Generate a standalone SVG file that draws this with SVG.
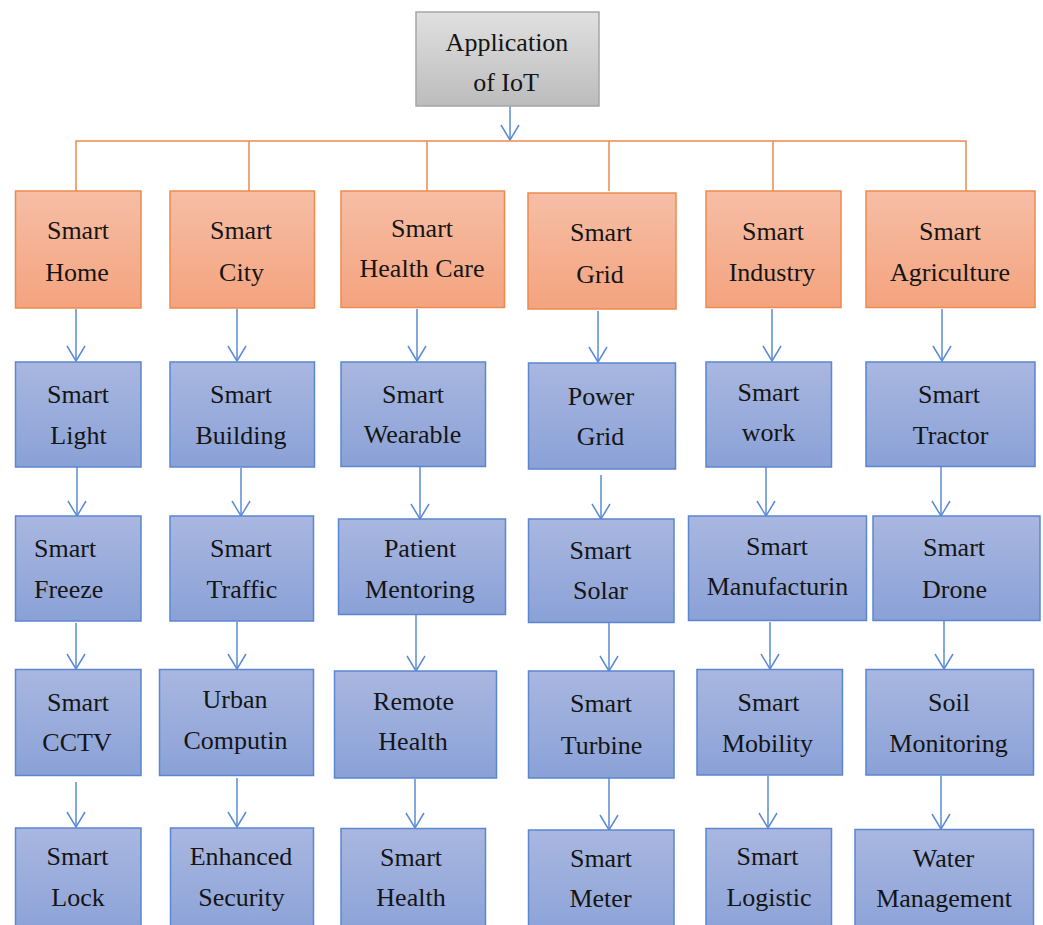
<svg xmlns="http://www.w3.org/2000/svg" width="1043" height="925" viewBox="0 0 1043 925">
  <defs>
    <linearGradient id="gGray" x1="0" y1="0" x2="0" y2="1">
      <stop offset="0" stop-color="#e0e0e0"/>
      <stop offset="1" stop-color="#bcbcbc"/>
    </linearGradient>
    <linearGradient id="gOrange" x1="0" y1="0" x2="0" y2="1">
      <stop offset="0" stop-color="#f6bea6"/>
      <stop offset="1" stop-color="#f4a37e"/>
    </linearGradient>
    <linearGradient id="gBlue" x1="0" y1="0" x2="0" y2="1">
      <stop offset="0" stop-color="#a9b7e0"/>
      <stop offset="1" stop-color="#8aa1d7"/>
    </linearGradient>
    <marker id="vhead" viewBox="-16 -10 18 20" refX="0" refY="0" markerWidth="18" markerHeight="20" markerUnits="userSpaceOnUse" orient="auto">
      <path d="M-15,-9 L0,0 L-15,9" fill="none" stroke="#5b8bd8" stroke-width="1.5"/>
    </marker>
    <style>
      .top { fill: url(#gGray); stroke: #a6a6a6; stroke-width: 1.5; }
      .cat { fill: url(#gOrange); stroke: #ee8a4c; stroke-width: 1.5; }
      .leaf { fill: url(#gBlue); stroke: #5b86d0; stroke-width: 1.5; }
      .bus { fill: none; stroke: #ee8a4c; stroke-width: 1.5; }
      .arr { fill: none; stroke: #5b8bd8; stroke-width: 1.5; marker-end: url(#vhead); }
      text { font-family: "Liberation Serif", "Times New Roman", serif; font-size: 26px; fill: #151515; text-anchor: middle; }
      .l { text-anchor: start; }
    </style>
  </defs>

  <!-- connectors -->
  <g id="connectors">
    <line class="arr" x1="510" y1="106" x2="510" y2="140"/>
    <path class="bus" d="M76,191 V141 H966 V191 M249,141 V191 M427,141 V191 M609,141 V191 M773,141 V191"/>
    <!-- categories to first row -->
    <line class="arr" x1="76" y1="309" x2="76" y2="361"/>
    <line class="arr" x1="237" y1="309" x2="237" y2="361"/>
    <line class="arr" x1="417" y1="309" x2="417" y2="361"/>
    <line class="arr" x1="598" y1="311" x2="598" y2="362"/>
    <line class="arr" x1="772" y1="309" x2="772" y2="361"/>
    <line class="arr" x1="942" y1="309" x2="942" y2="361"/>
    <!-- first row to second row -->
    <line class="arr" x1="77" y1="467" x2="77" y2="516"/>
    <line class="arr" x1="241" y1="468" x2="241" y2="516"/>
    <line class="arr" x1="420" y1="467" x2="420" y2="519"/>
    <line class="arr" x1="601" y1="475" x2="601" y2="519"/>
    <line class="arr" x1="766" y1="467" x2="766" y2="516"/>
    <line class="arr" x1="941" y1="467" x2="941" y2="516"/>
    <!-- second row to third row -->
    <line class="arr" x1="76" y1="623" x2="76" y2="669"/>
    <line class="arr" x1="237" y1="622" x2="237" y2="669"/>
    <line class="arr" x1="416" y1="615" x2="416" y2="671"/>
    <line class="arr" x1="609" y1="623" x2="609" y2="671"/>
    <line class="arr" x1="770" y1="622" x2="770" y2="669"/>
    <line class="arr" x1="944" y1="617" x2="944" y2="669"/>
    <!-- third row to fourth row -->
    <line class="arr" x1="76" y1="782" x2="76" y2="827"/>
    <line class="arr" x1="237" y1="778" x2="237" y2="827"/>
    <line class="arr" x1="415" y1="779" x2="415" y2="828"/>
    <line class="arr" x1="609" y1="778" x2="609" y2="830"/>
    <line class="arr" x1="768" y1="776" x2="768" y2="828"/>
    <line class="arr" x1="941" y1="776" x2="941" y2="829"/>
  </g>

  <!-- root -->
  <g id="application-of-iot">
    <rect class="top" x="416" y="12" width="183" height="94"/>
    <text x="507" y="51">Application</text>
    <text x="506" y="91">of IoT</text>
  </g>

  <!-- categories -->
  <g id="smart-home">
    <rect class="cat" x="15.5" y="191" width="125.5" height="117"/>
    <text x="78" y="239">Smart</text>
    <text x="77" y="281">Home</text>
  </g>
  <g id="smart-city">
    <rect class="cat" x="170" y="191" width="144.5" height="117"/>
    <text x="241" y="239">Smart</text>
    <text x="241.5" y="281">City</text>
  </g>
  <g id="smart-health-care">
    <rect class="cat" x="341" y="191" width="163.5" height="116.5"/>
    <text x="422" y="237">Smart</text>
    <text x="422" y="277">Health Care</text>
  </g>
  <g id="smart-grid">
    <rect class="cat" x="528" y="193" width="148" height="116"/>
    <text x="601" y="241">Smart</text>
    <text x="600" y="283">Grid</text>
  </g>
  <g id="smart-industry">
    <rect class="cat" x="706" y="191" width="135" height="116.5"/>
    <text x="773" y="240">Smart</text>
    <text x="772" y="281">Industry</text>
  </g>
  <g id="smart-agriculture">
    <rect class="cat" x="866" y="191" width="169" height="116.5"/>
    <text x="950" y="240">Smart</text>
    <text x="950" y="281">Agriculture</text>
  </g>

  <!-- row 1 -->
  <g id="smart-light">
    <rect class="leaf" x="15.5" y="362" width="125.5" height="105"/>
    <text x="78" y="403">Smart</text>
    <text x="78.5" y="444">Light</text>
  </g>
  <g id="smart-building">
    <rect class="leaf" x="170" y="362" width="144.5" height="105"/>
    <text x="241" y="403">Smart</text>
    <text x="241" y="444">Building</text>
  </g>
  <g id="smart-wearable">
    <rect class="leaf" x="341" y="362" width="144.5" height="104.5"/>
    <text x="413" y="403">Smart</text>
    <text x="412.5" y="443">Wearable</text>
  </g>
  <g id="power-grid">
    <rect class="leaf" x="528.5" y="363" width="147" height="106"/>
    <text x="601" y="405">Power</text>
    <text x="600.5" y="445">Grid</text>
  </g>
  <g id="smart-work">
    <rect class="leaf" x="706" y="362" width="125.5" height="105"/>
    <text x="768.5" y="401">Smart</text>
    <text x="768.5" y="441">work</text>
  </g>
  <g id="smart-tractor">
    <rect class="leaf" x="866" y="362" width="169" height="104.5"/>
    <text x="949" y="403">Smart</text>
    <text x="950.5" y="444">Tractor</text>
  </g>

  <!-- row 2 -->
  <g id="smart-freeze">
    <rect class="leaf" x="15.5" y="516" width="125.5" height="105"/>
    <text class="l" x="34" y="557">Smart</text>
    <text class="l" x="34" y="598">Freeze</text>
  </g>
  <g id="smart-traffic">
    <rect class="leaf" x="170" y="516" width="143.5" height="105"/>
    <text x="241" y="557">Smart</text>
    <text x="242" y="598">Traffic</text>
  </g>
  <g id="patient-mentoring">
    <rect class="leaf" x="338.5" y="519" width="167" height="95.5"/>
    <text x="420" y="557">Patient</text>
    <text x="420" y="598">Mentoring</text>
  </g>
  <g id="smart-solar">
    <rect class="leaf" x="528.5" y="519" width="145.5" height="103.5"/>
    <text x="600.5" y="559">Smart</text>
    <text x="600.5" y="599">Solar</text>
  </g>
  <g id="smart-manufacturin">
    <rect class="leaf" x="688.5" y="516" width="178" height="104.5"/>
    <text x="777" y="555">Smart</text>
    <text x="777.5" y="595">Manufacturin</text>
  </g>
  <g id="smart-drone">
    <rect class="leaf" x="873" y="516" width="167" height="104.5"/>
    <text x="954" y="556">Smart</text>
    <text x="954.5" y="598">Drone</text>
  </g>

  <!-- row 3 -->
  <g id="smart-cctv">
    <rect class="leaf" x="15.5" y="669.5" width="125.5" height="106"/>
    <text x="78" y="711">Smart</text>
    <text x="77" y="751">CCTV</text>
  </g>
  <g id="urban-computin">
    <rect class="leaf" x="159.5" y="669.5" width="154" height="106"/>
    <text x="235" y="708">Urban</text>
    <text x="235.5" y="749">Computin</text>
  </g>
  <g id="remote-health">
    <rect class="leaf" x="334.5" y="671" width="162" height="107"/>
    <text x="413.5" y="710">Remote</text>
    <text x="413" y="750">Health</text>
  </g>
  <g id="smart-turbine">
    <rect class="leaf" x="528.5" y="671" width="145.5" height="107"/>
    <text x="601" y="712">Smart</text>
    <text x="601.5" y="754">Turbine</text>
  </g>
  <g id="smart-mobility">
    <rect class="leaf" x="697" y="669.5" width="145.5" height="105.5"/>
    <text x="768.5" y="711">Smart</text>
    <text x="767.5" y="752">Mobility</text>
  </g>
  <g id="soil-monitoring">
    <rect class="leaf" x="866" y="669.5" width="167.5" height="105.5"/>
    <text x="949" y="711">Soil</text>
    <text x="948.5" y="752">Monitoring</text>
  </g>

  <!-- row 4, running off the lower edge -->
  <g id="smart-lock">
    <rect class="leaf" x="15.5" y="828" width="125.5" height="110"/>
    <text x="77.5" y="865">Smart</text>
    <text x="78" y="906">Lock</text>
  </g>
  <g id="enhanced-security">
    <rect class="leaf" x="170.5" y="828" width="143" height="110"/>
    <text x="241" y="865">Enhanced</text>
    <text x="241.5" y="906">Security</text>
  </g>
  <g id="smart-health">
    <rect class="leaf" x="341" y="828.5" width="144.5" height="110"/>
    <text x="411" y="866">Smart</text>
    <text x="411" y="906">Health</text>
  </g>
  <g id="smart-meter">
    <rect class="leaf" x="528.5" y="830" width="145.5" height="110"/>
    <text x="601" y="867">Smart</text>
    <text x="600.5" y="907">Meter</text>
  </g>
  <g id="smart-logistic">
    <rect class="leaf" x="706" y="828.5" width="125.5" height="110"/>
    <text x="767.5" y="865">Smart</text>
    <text x="769" y="906">Logistic</text>
  </g>
  <g id="water-management">
    <rect class="leaf" x="855" y="829.5" width="178.5" height="110"/>
    <text x="943.5" y="867">Water</text>
    <text x="944" y="907">Management</text>
  </g>
</svg>
